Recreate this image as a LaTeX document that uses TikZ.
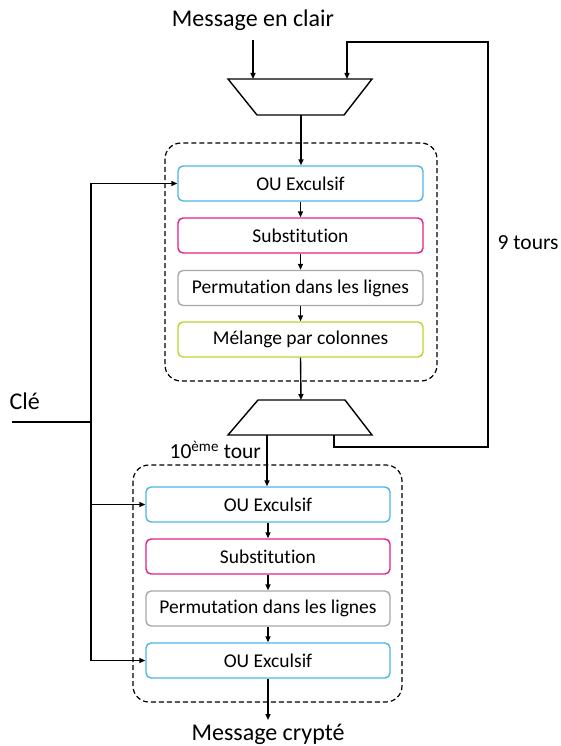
\documentclass[tikz,border=0pt]{standalone}
\usepackage{fontspec}
\setmainfont{Carlito}[Ligatures=NoCommon]
\usetikzlibrary{arrows.meta}
\definecolor{cblue}{HTML}{4FB4E6}
\definecolor{cmag}{HTML}{E41E84}
\definecolor{cgrey}{HTML}{A8A8A8}
\definecolor{cyel}{HTML}{BDD22C}
\begin{document}
\begin{tikzpicture}[x=1pt,y=-1pt,
  line width=1.4pt,
  arr/.style={-{Triangle[length=6pt,width=5pt]}},
  stepbox/.style={draw,rounded corners=5pt,line width=1.4pt,minimum width=245pt,minimum height=35pt,inner sep=0pt,font=\fontsize{19.5}{22}\selectfont},
  container/.style={draw,dashed,dash pattern=on 5pt off 3pt,rounded corners=16pt,line width=1.2pt},
  bigtxt/.style={font=\fontsize{24}{27}\selectfont,inner sep=0pt},
  midtxt/.style={font=\fontsize{21.5}{24}\selectfont,inner sep=0pt}]
\useasboundingbox (0,0) rectangle (561,746);
% containers
\draw[container] (165,143) rectangle (437,381);
\draw[container] (133,465) rectangle (402,702);
% upper boxes
\node[stepbox,draw=cblue] (x1) at (300.5,183.5) {OU Exculsif};
\node[stepbox,draw=cmag] (s1) at (300.5,235.5) {Substitution};
\node[stepbox,draw=cgrey] (p1) at (300.5,288) {Permutation dans les lignes};
\node[stepbox,draw=cyel] (m1) at (300.5,339.5) {Mélange par colonnes};
% lower boxes
\node[stepbox,draw=cblue,minimum width=244pt] (x2) at (268,504.5) {OU Exculsif};
\node[stepbox,draw=cmag,minimum width=244pt] (s2) at (268,556.5) {Substitution};
\node[stepbox,draw=cgrey,minimum width=244pt] (p2) at (268,608.5) {Permutation dans les lignes};
\node[stepbox,draw=cblue,minimum width=244pt] (x3) at (268,660.5) {OU Exculsif};
% texts
\node[bigtxt] (msg) at (253,20) {Message en clair};
\node[bigtxt] (out) at (268,734) {Message crypté};
\node[bigtxt,anchor=west] (cle) at (9,401) {Clé};
\node[midtxt,anchor=west] (tours) at (497,243) {9 tours};
\node[midtxt,anchor=west] (dix) at (169,450) {10\textsuperscript{ème} tour};
% top trapezoid
\coordinate (t1a) at (253,79);
\coordinate (t1b) at (347,79);
\coordinate (t1o) at (301,115);
\draw (228,79) -- (372,79) -- (344,115) -- (257,115) -- cycle;
% lower trapezoid
\coordinate (t2i) at (301,400);
\coordinate (t2o) at (267,435);
\coordinate (t2f) at (334,435);
\draw (258,400) -- (345,400) -- (372,435) -- (228,435) -- cycle;
% connectors
\coordinate (msgb) at (253,40);
\draw[arr] (msgb) -- (t1a);
\draw[arr] (t2f) -- (334,447) -- (488,447) -- (488,42) -- (347,42) -- (t1b);
\draw[arr] (t1o) -- (x1.north -| t1o);
\draw[arr] (x1.south) -- (s1.north);
\draw[arr] (s1.south) -- (p1.north);
\draw[arr] (p1.south) -- (m1.north);
\draw[arr] (m1.south) -- (t2i);
\draw[arr] (t2o) -- (x2.north -| t2o);
\draw[arr] (x2.south) -- (s2.north);
\draw[arr] (s2.south) -- (p2.north);
\draw[arr] (p2.south) -- (x3.north);
\coordinate (outa) at (268,720);
\draw[arr] (x3.south) -- (outa);
% key
\coordinate (k0) at (12,422);
\coordinate (kj) at (91,422);
\coordinate (ktop) at (91,183.5);
\coordinate (kbot) at (91,660.5);
\draw (k0) -- (kj);
\draw[arr] (kj) -- (ktop) -- (x1.west);
\draw[arr] (kj) -- (kbot) -- (x3.west);
\draw[arr] (91,504.5) -- (x2.west);
\end{tikzpicture}
\end{document}
